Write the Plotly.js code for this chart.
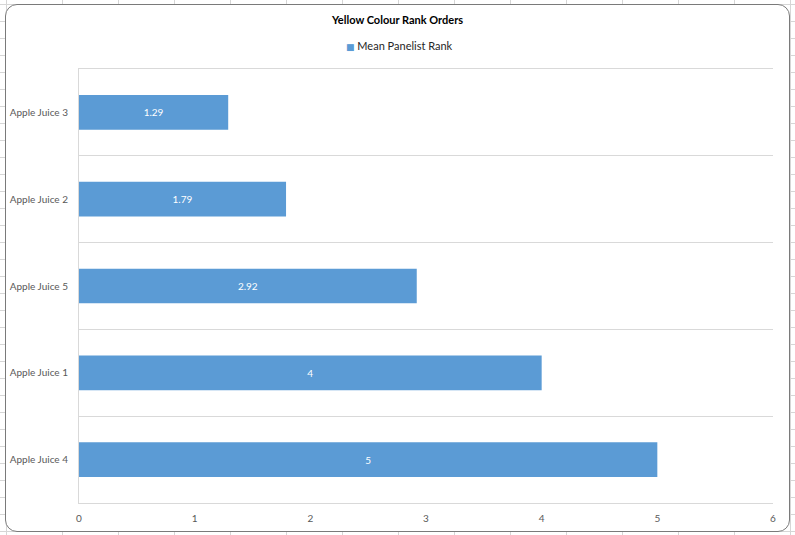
<!DOCTYPE html>
<html>
<head>
<meta charset="utf-8">
<script src="https://cdn.plot.ly/plotly-3.0.1.min.js"></script>
<style>
  html, body { margin: 0; padding: 0; width: 795px; height: 535px; overflow: hidden; }
  body {
    background-color: #ffffff;
    background-image:
      linear-gradient(to right, #d6d6d6 1px, transparent 1px),
      linear-gradient(to bottom, #d6d6d6 1px, transparent 1px);
    background-size: 56px 17px, 56px 17px;
    background-position: 6px 4px, 6px 4px;
    position: relative;
  }
  #frame {
    position: absolute; left: 5px; top: 4px;
    width: 783px; height: 526px;
    border: 1px solid #7a7a7a; border-radius: 12px;
    background: #ffffff; overflow: hidden;
  }
  #chart { width: 783px; height: 526px; }
</style>
</head>
<body>
<div id="frame"><div id="chart"></div></div>
<script>
// Data (top to bottom as shown)
const categories = ["Apple Juice 3", "Apple Juice 2", "Apple Juice 5", "Apple Juice 1", "Apple Juice 4"];
const meanRank = [1.29, 1.79, 2.92, 4, 5];
const seriesName = "Mean Panelist Rank";
const chartTitle = "Yellow Colour Rank Orders";
const xTicks = [0, 1, 2, 3, 4, 5, 6];

const barColor = "#5B9BD5";
const idx = categories.map((c, i) => i);
const boundaries = [];
for (let i = -0.5; i <= categories.length - 0.5; i += 1) boundaries.push(i);

const font = "Lato, 'Open Sans', 'Liberation Sans', sans-serif";

const trace = {
  type: "bar",
  orientation: "h",
  name: seriesName,
  x: meanRank,
  y: idx,
  marker: { color: barColor },
  width: 0.4,
  text: meanRank.map(String),
  textposition: "inside",
  insidetextanchor: "middle",
  textfont: { color: "#ffffff", size: 10, family: font },
  hoverinfo: "x+y",
  showlegend: false
};

const layout = {
  width: 783, height: 526,
  paper_bgcolor: "rgba(0,0,0,0)",
  plot_bgcolor: "rgba(0,0,0,0)",
  margin: { l: 73, r: 16, t: 64, b: 28 },
  font: { family: font, color: "#595959", size: 10 },
  title: {
    text: "<b>" + chartTitle + "</b>",
    font: { family: font, size: 11, color: "#000000" },
    x: 0.5, xanchor: "center", xref: "container",
    y: 0.972, yanchor: "middle", yref: "container"
  },
  showlegend: false,
  annotations: [{
    xref: "paper", yref: "paper",
    x: 0.5, y: 1, xanchor: "center", yanchor: "bottom",
    xshift: -27, yshift: 15,
    showarrow: false,
    text: "<span style='color:" + barColor + ";font-size:9px;font-family:DejaVu Sans'>■</span> " + seriesName,
    font: { family: font, size: 11, color: "#262626" }
  }],
  xaxis: {
    range: [0, 6],
    tickvals: xTicks,
    showgrid: false,
    zeroline: false,
    showline: true,
    mirror: true,
    linecolor: "#d9d9d9",
    linewidth: 1,
    ticks: "",
    tickfont: { size: 10, color: "#595959" },
    ticklabelstandoff: 6,
    fixedrange: true
  },
  yaxis: {
    range: [categories.length - 0.5, -0.5],
    tickvals: idx,
    ticktext: categories,
    showgrid: false,
    zeroline: false,
    showline: true,
    linecolor: "#d9d9d9",
    linewidth: 1,
    ticks: "",
    tickfont: { size: 10, color: "#595959" },
    ticklabelstandoff: 8,
    minor: {
      tickvals: boundaries,
      showgrid: true,
      gridcolor: "#d9d9d9",
      gridwidth: 1,
      ticks: ""
    },
    fixedrange: true
  }
};

Plotly.newPlot("chart", [trace], layout, { displayModeBar: false, staticPlot: true });
</script>
</body>
</html>
